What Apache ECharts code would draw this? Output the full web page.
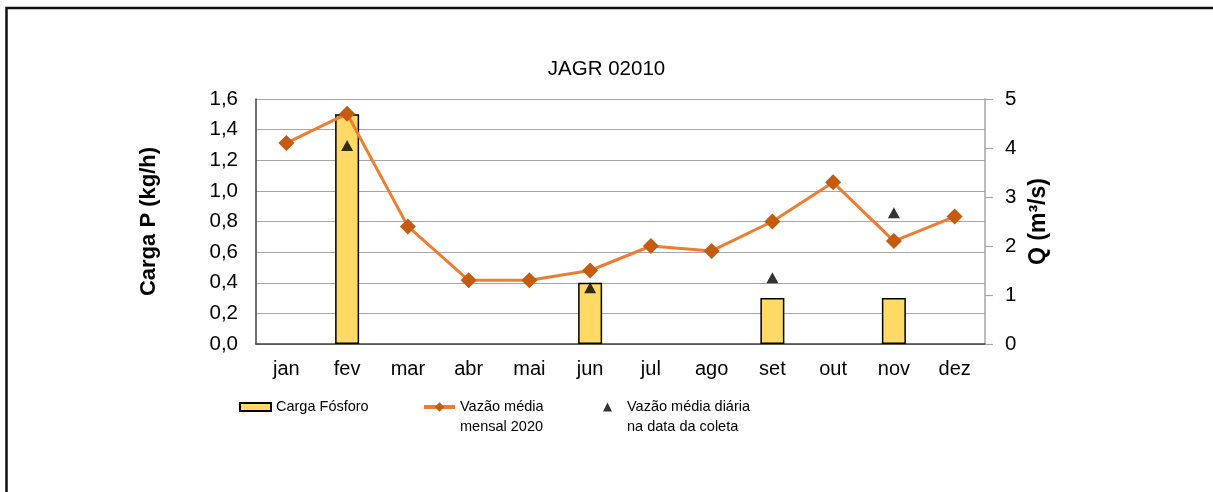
<!DOCTYPE html>
<html>
<head>
<meta charset="utf-8">
<script src="https://cdn.jsdelivr.net/npm/echarts@6/dist/echarts.min.js"></script>
<style>
html,body{margin:0;padding:0;background:#fff;}
#chart{width:1213px;height:492px;}
</style>
</head>
<body>
<div id="chart"></div>
<script>
const months = ['jan','fev','mar','abr','mai','jun','jul','ago','set','out','nov','dez'];
const cargaFosforo = [null, 1.5, null, null, null, 0.4, null, null, 0.3, null, 0.3, null];
const vazaoMensal = [4.1, 4.7, 2.4, 1.3, 1.3, 1.5, 2.0, 1.9, 2.5, 3.3, 2.1, 2.6];
const vazaoDiaria = [null, 4.05, null, null, null, 1.15, null, null, 1.35, null, 2.68, null];
const leftTicks = {min: 0, max: 1.6, interval: 0.2};
const rightTicks = {min: 0, max: 5, interval: 1};

const chart = echarts.init(document.getElementById('chart'));
const baseFont = "'Liberation Sans', Arial, sans-serif";
const legendText = {fontFamily: baseFont, fontSize: 14.5, color: '#000', lineHeight: 20};

chart.setOption({
  animation: false,
  backgroundColor: '#fff',
  graphic: [{
    type: 'rect', silent: true,
    shape: {x: 6.5, y: 8, width: 1300, height: 600},
    style: {fill: 'none', stroke: '#111', lineWidth: 2.5}
  }],
  title: {
    text: 'JAGR 02010', left: 'center', top: 54,
    textStyle: {fontFamily: baseFont, fontSize: 20.5, fontWeight: 'normal', color: '#000'}
  },
  legend: [
    {
      data: [{name: 'Carga Fósforo', icon: 'rect'}], left: 239, top: 397, padding: 0,
      itemWidth: 31, itemHeight: 8,
      textStyle: legendText
    },
    {
      data: [{name: 'Vazão média\nmensal 2020', lineStyle: {width: 4}}], left: 422, top: 377, padding: 0,
      itemWidth: 31, itemHeight: 12,
      formatter: n => ' \n' + n,
      textStyle: legendText
    },
    {
      data: [{name: 'Vazão média diária\nna data da coleta'}], left: 603, top: 377, padding: 0,
      itemWidth: 9, itemHeight: 9,
      formatter: n => ' \n' + n,
      textStyle: Object.assign({}, legendText, {padding: [0, 0, 0, 10]})
    }
  ],
  grid: {left: 256, right: 228, top: 99, bottom: 148, containLabel: false},
  xAxis: {
    type: 'category', data: months, boundaryGap: true,
    axisLine: {lineStyle: {color: '#404040', width: 1.5}},
    axisTick: {show: false},
    axisLabel: {fontFamily: baseFont, fontSize: 20, color: '#000', margin: 15}
  },
  yAxis: [
    {
      type: 'value', min: leftTicks.min, max: leftTicks.max, interval: leftTicks.interval,
      name: 'Carga P (kg/h)', nameLocation: 'middle', nameGap: 96, nameRotate: 90,
      nameTextStyle: {fontFamily: baseFont, fontSize: 22, fontWeight: 'bold', color: '#000'},
      axisLine: {show: true, lineStyle: {color: '#404040', width: 1.5}},
      axisTick: {show: false},
      axisLabel: {fontFamily: baseFont, fontSize: 20.5, color: '#000', margin: 18,
        formatter: v => v.toFixed(1).replace('.', ',')},
      splitLine: {show: true, lineStyle: {color: '#a6a6a6', width: 1.2}}
    },
    {
      type: 'value', position: 'right', min: rightTicks.min, max: rightTicks.max, interval: rightTicks.interval,
      name: 'Q (m³/s)', nameLocation: 'middle', nameGap: 36, nameRotate: 90,
      nameTextStyle: {fontFamily: baseFont, fontSize: 23, fontWeight: 'bold', color: '#000'},
      axisLine: {show: true, lineStyle: {color: '#a6a6a6', width: 1.5}},
      axisTick: {show: true, inside: false, length: 8, lineStyle: {color: '#a6a6a6', width: 1.2}},
      axisLabel: {fontFamily: baseFont, fontSize: 20.5, color: '#000', margin: 20},
      splitLine: {show: false}
    }
  ],
  series: [
    {
      name: 'Carga Fósforo', type: 'bar', yAxisIndex: 0, data: cargaFosforo, barWidth: 24,
      itemStyle: {color: '#FFD966', borderColor: '#000', borderWidth: 1.5}
    },
    {
      name: 'Vazão média\nmensal 2020', type: 'line', yAxisIndex: 1, data: vazaoMensal,
      symbol: 'diamond', symbolSize: 16,
      lineStyle: {color: '#ED7D31', width: 3},
      itemStyle: {color: '#C55A11'}
    },
    {
      name: 'Vazão média diária\nna data da coleta', type: 'scatter', yAxisIndex: 1, data: vazaoDiaria,
      symbol: 'triangle', symbolSize: [12, 11],
      itemStyle: {color: '#000'}
    }
  ]
});
</script>
</body>
</html>
